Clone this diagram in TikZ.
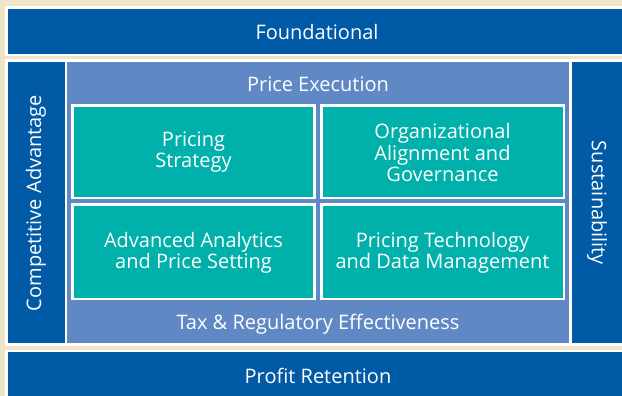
\documentclass[tikz,border=0pt]{standalone}
\usepackage{fontspec}
\setmainfont{Open Sans}
\definecolor{bgc}{RGB}{240,228,200}
\definecolor{dblue}{RGB}{0,90,166}
\definecolor{lblue}{RGB}{96,136,196}
\definecolor{tealc}{RGB}{0,176,170}
\begin{document}
\begin{tikzpicture}[x=1pt,y=-1pt,
  lbl/.style={text=white, align=center, inner sep=0pt, font=\fontsize{20}{21.3}\selectfont},
  tealbox/.style={fill=tealc, draw=white, line width=2.6pt}]
\useasboundingbox (0,0) rectangle (622,396);
\clip (0,0) rectangle (622,396);
\fill[bgc] (0,0) rectangle (622,396);
% top bar
\fill[white] (5,6.5) rectangle (640,56.5);
\fill[dblue] (8,9) rectangle (640,54);
% middle frame
\fill[white] (5,59) rectangle (640,346);
\fill[dblue] (8,62) rectangle (64.5,343);
\fill[lblue] (67,62.5) rectangle (569,343);
\fill[dblue] (572,62) rectangle (640,343);
% bottom bar
\fill[white] (5,349.5) rectangle (640,410);
\fill[dblue] (8,352) rectangle (640,410);
% teal boxes
\path[tealbox] (72.4,105.3) rectangle (314.6,197.9);
\path[tealbox] (321.2,105.3) rectangle (563.8,197.9);
\path[tealbox] (72.4,204.5) rectangle (314.6,298.8);
\path[tealbox] (321.2,204.5) rectangle (563.8,298.8);
% labels
\node[lbl] (found) at (317,32) {Foundational};
\node[lbl] (exec) at (318,84) {Price Execution};
\node[lbl] (strat) at (193.5,152) {Pricing\\Strategy};
\node[lbl] (org) at (442.5,152.5) {Organizational\\Alignment and\\Governance};
\node[lbl] (adv) at (193.5,252.5) {Advanced Analytics\\and Price Setting};
\node[lbl] (tech) at (442.5,252.5) {Pricing Technology\\and Data Management};
\node[lbl] (tax) at (318,324) {Tax \& Regulatory Effectiveness};
\node[lbl] (profit) at (318,376) {Profit Retention};
\node[lbl, rotate=90] (comp) at (36,203) {Competitive Advantage};
\node[lbl, rotate=-90] (sust) at (597,203) {Sustainability};
\end{tikzpicture}
\end{document}
